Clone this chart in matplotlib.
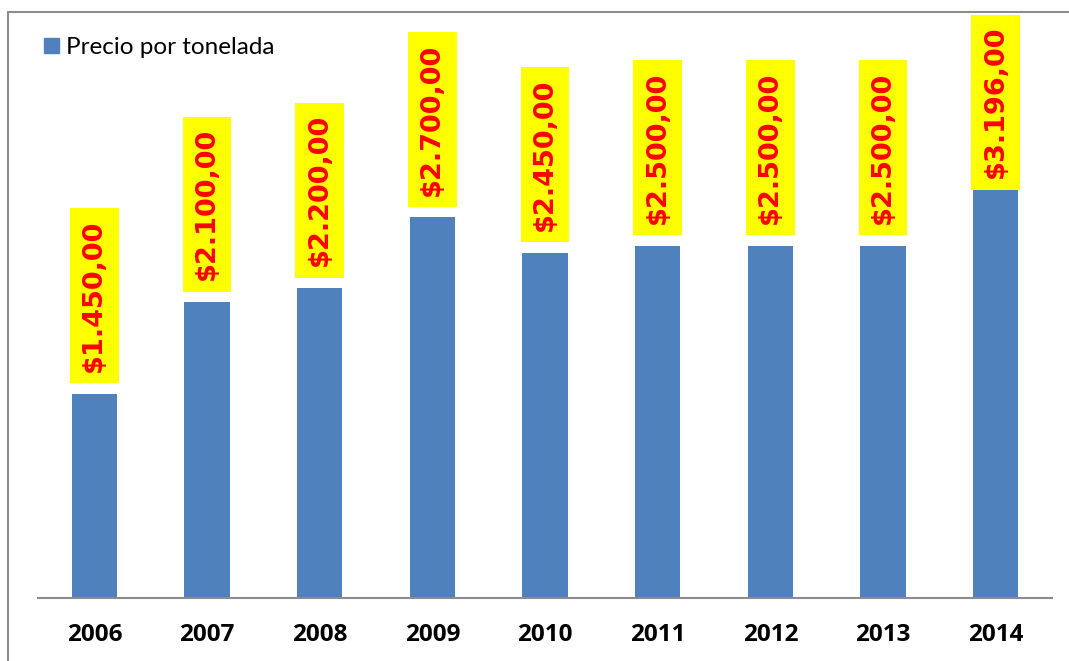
import matplotlib
matplotlib.use("Agg")
import matplotlib.pyplot as plt
from matplotlib.patches import Rectangle, Patch

years = ["2006", "2007", "2008", "2009", "2010", "2011", "2012", "2013", "2014"]
prices = [1450, 2100, 2200, 2700, 2450, 2500, 2500, 2500, 3196]
labels = ["$1.450,00", "$2.100,00", "$2.200,00", "$2.700,00", "$2.450,00",
          "$2.500,00", "$2.500,00", "$2.500,00", "$3.196,00"]
series_name = "Precio por tonelada"

W, H = 1069, 661
fig = plt.figure(figsize=(W / 100, H / 100), dpi=100)
plt.rcParams['font.family'] = ['Lato', 'DejaVu Sans']

ax_left, ax_right, ax_bottom, ax_top = 38, 1052, 598, 12
ax = fig.add_axes([ax_left / W, (H - ax_bottom) / H, (ax_right - ax_left) / W, (ax_bottom - ax_top) / H])

px_per_unit = 0.141
ymax = (ax_bottom - ax_top) / px_per_unit
bar_color = "#4F81BD"
x = list(range(len(years)))
ax.bar(x, prices, width=0.4, color=bar_color, zorder=2)
ax.set_xlim(-0.5, len(years) - 0.5)
ax.set_ylim(0, ymax)

for s in ["left", "right", "top"]:
    ax.spines[s].set_visible(False)
ax.spines["bottom"].set_color("#8c8c8c")
ax.spines["bottom"].set_linewidth(1.5)
ax.set_yticks([])
ax.set_xticks(x)
ax.set_xticklabels(years, fontsize=17.5, fontweight="bold", color="black",
                   family=["Open Sans", "DejaVu Sans"])
ax.tick_params(axis="x", length=0, pad=18)

box_px = 176
gap_px = 10
pad_px = 11.5
for i, (v, lab) in enumerate(zip(prices, labels)):
    anchor = min(v, ymax - (box_px + gap_px + 2) / px_per_unit)
    ax.annotate(lab, xy=(i, anchor), xytext=(0, (gap_px + pad_px) * 0.72),
                textcoords="offset points", rotation=90, ha="center", va="bottom",
                fontsize=19.5, fontweight="bold", color="#FF0000", zorder=3,
                family=["DejaVu Sans"],
                bbox=dict(boxstyle="square,pad=0.42", fc="#FFFF00", ec="none"))

ax.legend(handles=[Patch(color=bar_color, label=series_name)], loc="upper left",
          bbox_to_anchor=(44 / W, (H - 37) / H), bbox_transform=fig.transFigure,
          frameon=False, fontsize=17.5, handlelength=0.6, handleheight=0.6,
          handletextpad=0.3, borderpad=0, borderaxespad=0)

fig.add_artist(Rectangle((8 / W, -0.1), 1.2, (H - 12) / H + 0.1, transform=fig.transFigure,
                         fill=False, ec="#8c8c8c", lw=1.5))

fig.savefig("out.png", dpi=100)
